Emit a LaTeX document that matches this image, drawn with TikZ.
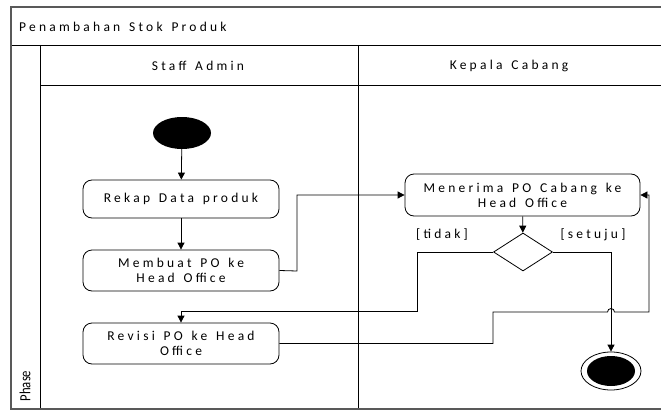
\documentclass[tikz,border=0pt]{standalone}
\usepackage{fontspec}
\setmainfont{Carlito}
\newfontfamily\spaced[LetterSpace=24, WordSpace=1.4]{Carlito}
\usetikzlibrary{shapes.geometric,arrows.meta,calc}
\tikzset{
  frame/.style={draw=black!65, line width=2pt},
  lane/.style={draw=black, line width=0.9pt},
  action/.style={draw, rounded corners=9pt, line width=0.8pt, minimum width=196pt,
    align=center, font=\spaced\fontsize{13.5}{15}\selectfont, inner sep=0pt},
  lbl/.style={font=\spaced\fontsize{13.5}{15}\selectfont, inner sep=0pt},
  flow/.style={draw, line width=0.8pt, -{Triangle[width=7pt,length=7pt]}},
  line/.style={draw, line width=0.8pt},
}
\begin{document}
\begin{tikzpicture}[x=1pt,y=-1pt]
\useasboundingbox (0,0) rectangle (661,412);

% pool frame and lanes
\draw[lane] (11,45) -- (661,45);
\draw[lane] (40,45) -- (40,409);
\draw[lane] (40,85) -- (661,85);
\draw[lane] (358,45) -- (358,409);
\draw[frame] (661,7) -- (11,7) -- (11,409) -- (661,409);

\node[lbl, anchor=west] (title) at (19,27) {Penambahan Stok Produk};
\node[lbl] (laneA) at (198,66) {Staff Admin};
\node[lbl] (laneB) at (509,66) {Kepala Cabang};
\node[font=\fontsize{15.5}{16}\selectfont, rotate=90, inner sep=0pt, xscale=0.82] (phase) at (25,386) {Phase};

% activities
\node[ellipse, fill=black, minimum width=58pt, minimum height=32pt, inner sep=0pt] (start) at (182,133) {};
\node[action, minimum height=38pt] (rekap) at (181,199) {Rekap Data produk};
\node[action, minimum height=41pt] (buat) at (181,270.5) {Membuat PO ke\\Head Office};
\node[action, minimum height=41pt] (revisi) at (181,343.5) {Revisi PO ke Head\\Office};
\node[action, minimum width=235pt, minimum height=42pt] (terima) at (522.5,195) {Menerima PO Cabang ke\\Head Office};
\node[diamond, draw, line width=0.8pt, minimum width=59pt, minimum height=38pt, inner sep=0pt, aspect=1.55] (cek) at (523,252) {};
\node[ellipse, draw, line width=0.8pt, minimum width=60pt, minimum height=38pt, inner sep=0pt] (akhir) at (611,371) {};
\node[ellipse, fill=black, minimum width=48pt, minimum height=30pt, inner sep=0pt] (akhirin) at (akhir.center) {};

\node[lbl] (tidak) at (442,235) {[tidak]};
\node[lbl] (setuju) at (593,235) {[setuju]};

% route points
\coordinate (j1) at (297,271);
\coordinate (t1) at (417,311);
\coordinate (r1) at (493,312);
\coordinate (r2) at (649,312);

% flows
\draw[flow] (start) -- (rekap);
\draw[flow] (rekap) -- (buat);
\draw[flow] (buat.east) -- (j1) |- (terima.west);
\draw[flow] (terima) -- (cek);
\draw[flow] (cek.west) -| (t1) -| (revisi.north);
\draw[flow] (cek.east) -| (akhir.north);
\draw[flow] (revisi.east) -| (r1) -- (607.5,312) arc[start angle=180, end angle=360, radius=3.5] -- (r2) |- (terima.east);
\end{tikzpicture}
\end{document}
